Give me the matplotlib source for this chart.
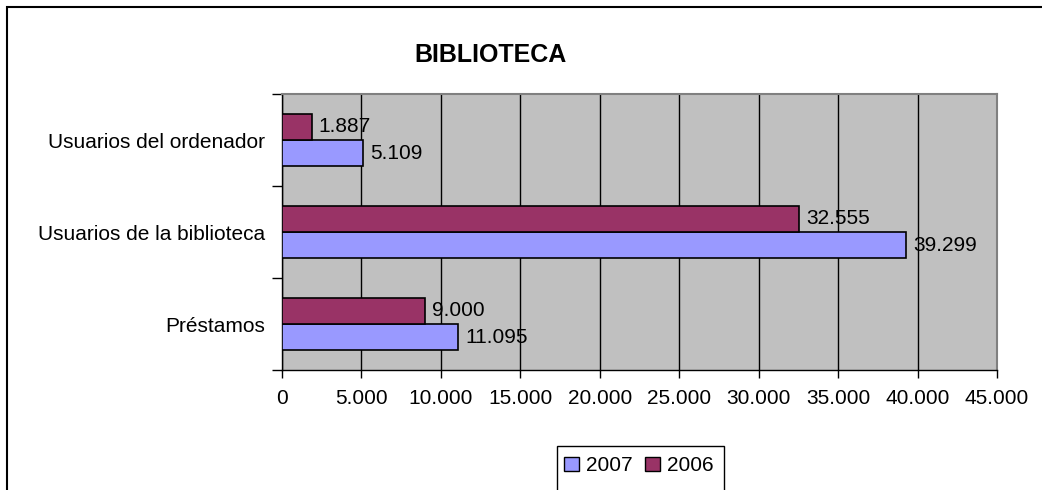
import numpy as np
import matplotlib.pyplot as plt
from matplotlib.patches import Rectangle, Patch
from matplotlib.ticker import FuncFormatter

plt.rcParams['font.family'] = ['Liberation Sans', 'DejaVu Sans']

categories = ['Préstamos', 'Usuarios de la biblioteca', 'Usuarios del ordenador']
values_2007 = [11095, 39299, 5109]
values_2006 = [9000, 32555, 1887]
series_names = ['2007', '2006']
color_2007 = '#9999FF'
color_2006 = '#993366'

W, H = 1042, 490
fig = plt.figure(figsize=(W / 100, H / 100), dpi=100)
ax = fig.add_axes([282 / W, 1 - 370 / H, (997 - 282) / W, (370 - 94) / H])
ax.set_facecolor('#C0C0C0')

y = np.arange(len(categories))
bar_h = 0.286
ax.barh(y - bar_h / 2, values_2007, height=bar_h, color=color_2007,
        edgecolor='black', linewidth=1.2, zorder=3)
ax.barh(y + bar_h / 2, values_2006, height=bar_h, color=color_2006,
        edgecolor='black', linewidth=1.2, zorder=3)


def fmt(v):
    return f'{int(v):,}'.replace(',', '.')


for yi, v in zip(y, values_2007):
    ax.text(v + 420, yi - bar_h / 2, fmt(v), va='center', ha='left', fontsize=15, zorder=4)
for yi, v in zip(y, values_2006):
    ax.text(v + 420, yi + bar_h / 2, fmt(v), va='center', ha='left', fontsize=15, zorder=4)

ax.set_xlim(0, 45000)
ax.set_ylim(-0.5, len(categories) - 0.5)
ax.set_xticks(np.arange(0, 45001, 5000))
ax.xaxis.set_major_formatter(FuncFormatter(lambda v, p: fmt(v)))
ax.tick_params(axis='x', direction='out', length=6, width=1, labelsize=15, pad=8)
ax.xaxis.grid(True, color='black', linewidth=1, zorder=1)
ax.set_axisbelow(True)

ax.set_yticks(y)
ax.set_yticklabels(categories, fontsize=15)
ax.tick_params(axis='y', length=0, pad=12)
ax.set_yticks(np.arange(-0.5, len(categories), 1.0), minor=True)
ax.tick_params(axis='y', which='minor', direction='out', length=7, width=1)

for side in ['top', 'right']:
    ax.spines[side].set_color('#808080')
    ax.spines[side].set_linewidth(1.5)
for side in ['left', 'bottom']:
    ax.spines[side].set_color('black')
    ax.spines[side].set_linewidth(1)

fig.text(491 / W, 1 - 55 / H, 'BIBLIOTECA', ha='center', va='center',
         fontsize=18, fontweight='bold')

# outer chart frame
fig.patches.append(Rectangle((7 / W, -0.2), 1.2, 0.2 + 1 - 7 / H, transform=fig.transFigure,
                             fill=False, edgecolor='black', linewidth=1.5))

# legend box
fig.patches.append(Rectangle((557 / W, -0.2), (724 - 557) / W, 0.2 + 1 - 446 / H,
                             transform=fig.transFigure, facecolor='white',
                             edgecolor='black', linewidth=1))
handles = [Patch(facecolor=color_2007, edgecolor='black'),
           Patch(facecolor=color_2006, edgecolor='black')]
fig.legend(handles, series_names, loc='upper left', bbox_to_anchor=(560 / W, 1 - 452 / H),
           ncol=2, frameon=False, fontsize=15, handlelength=0.7, handleheight=0.7,
           handletextpad=0.35, columnspacing=0.6, borderaxespad=0, borderpad=0.2)

fig.savefig('out.png', dpi=100)
